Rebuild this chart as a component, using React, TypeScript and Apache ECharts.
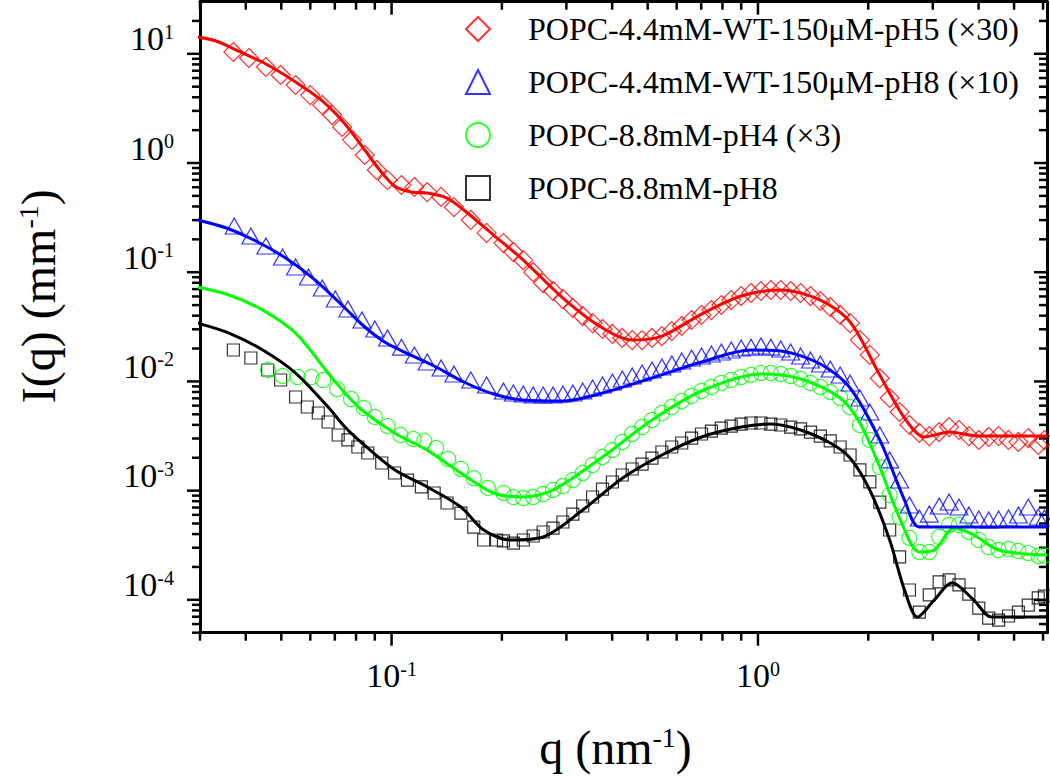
import React, { useEffect, useRef } from 'react';
import * as echarts from 'echarts';

const FONT = "'Liberation Serif', 'Times New Roman', serif";
const X_MIN = 0.03;
const X_MAX = 6.15;
const Y_MIN = 5e-5;
const Y_MAX = 30;

const NAME_RED = 'POPC-4.4mM-WT-150μM-pH5 (×30)';
const NAME_BLUE = 'POPC-4.4mM-WT-150μM-pH8 (×10)';
const NAME_GREEN = 'POPC-8.8mM-pH4 (×3)';
const NAME_BLACK = 'POPC-8.8mM-pH8';

// tick positions
const xMajorTicks = [0.1, 1];
const yMajorTicks = [1e-4, 1e-3, 1e-2, 1e-1, 1, 10];
const minorMultipliers = [2, 3, 4, 5, 6, 7, 8, 9];
const xDecades = [0.01, 0.1, 1];
const yDecades = [1e-5, 1e-4, 1e-3, 1e-2, 1e-1, 1, 10];

// low-q markers
const redLowQ = [0.0370, 0.0408, 0.0454, 0.0498, 0.0547, 0.0600, 0.0647, 0.0689, 0.0733, 0.0780, 0.0845, 0.0911, 0.0975, 0.1064, 0.1154, 0.1251, 0.1365, 0.1480, 0.1645, 0.1817];
const redLowI = [10.39, 9.15, 7.57, 6.40, 5.18, 4.19, 3.40, 2.75, 2.14, 1.63, 1.184, 0.863, 0.698, 0.629, 0.603, 0.542, 0.489, 0.395, 0.301, 0.229];

const blueLowQ = [0.0372, 0.0413, 0.0454, 0.0504, 0.0547, 0.0593, 0.0647, 0.0702, 0.0760, 0.0830, 0.0900, 0.0975, 0.1064, 0.1154, 0.1251, 0.1365, 0.1480, 0.1645, 0.1817];
const blueLowI = [0.265, 0.2146, 0.1738, 0.1378, 0.1116, 0.0904, 0.0716, 0.0568, 0.0460, 0.0365, 0.0302, 0.0250, 0.0206, 0.01745, 0.01505, 0.01327, 0.01169, 0.01030, 0.00927];

const greenLowQ = [0.0460, 0.0504, 0.0554, 0.0604, 0.0651, 0.0710, 0.0775, 0.0840, 0.0900, 0.0975, 0.1057, 0.1147, 0.1228, 0.1323, 0.1426, 0.1546, 0.1676, 0.1829];
const greenLowI = [0.01272, 0.01121, 0.01097, 0.01097, 0.0103, 0.00852, 0.00690, 0.00571, 0.00472, 0.00390, 0.00323, 0.00297, 0.00285, 0.00246, 0.00195, 0.00158, 0.00130, 0.00106];

const blackLowQ = [0.0370, 0.0413, 0.0459, 0.0498, 0.0547, 0.0589, 0.0631, 0.0671, 0.0715, 0.0760, 0.0809, 0.0861, 0.0940, 0.1019, 0.1105, 0.1206, 0.1307, 0.1417, 0.1546, 0.1676, 0.1784, 0.1934];
const blackLowI = [0.0194, 0.01638, 0.01272, 0.0103, 0.0072, 0.00583, 0.00514, 0.00425, 0.00323, 0.00291, 0.00251, 0.00221, 0.00179, 0.00145, 0.00125, 0.00108, 0.000951, 0.000770, 0.000623, 0.000464, 0.000353, 0.000353];

// dense (band) markers, shared q
const qBand = [0.2020, 0.2150, 0.2288, 0.2435, 0.2592, 0.2758, 0.2935, 0.3124, 0.3324, 0.3537, 0.3764, 0.4006, 0.4263, 0.4537, 0.4828, 0.5138, 0.5468, 0.5818, 0.6192, 0.6590, 0.7013, 0.7464, 0.7943, 0.8453, 0.8996, 0.9574, 1.019, 1.084, 1.154, 1.228, 1.307, 1.391, 1.480, 1.575, 1.676, 1.784, 1.898, 2.020, 2.150, 2.288, 2.435, 2.591, 2.757, 2.935, 3.123, 3.324, 3.537, 3.764, 4.006, 4.263, 4.537, 4.829, 5.138, 5.468, 5.821, 6.05];
const redBandI = [0.185, 0.153, 0.129, 0.100, 0.0796, 0.0673, 0.0568, 0.0470, 0.0397, 0.0342, 0.0302, 0.0272, 0.0250, 0.0239, 0.0239, 0.0250, 0.0260, 0.0289, 0.0322, 0.0365, 0.0406, 0.0450, 0.0501, 0.0556, 0.0605, 0.0645, 0.0673, 0.0687, 0.0687, 0.0673, 0.0645, 0.0605, 0.0545, 0.0480, 0.0406, 0.0342, 0.0239, 0.0175, 0.0107, 0.00705, 0.00525, 0.00399, 0.00337, 0.00316, 0.00344, 0.00382, 0.00359, 0.00316, 0.00291, 0.00310, 0.00316, 0.00291, 0.00279, 0.00303, 0.00262, 0.00290];
const blueBandI = [0.00817, 0.00783, 0.00767, 0.00751, 0.00751, 0.00751, 0.00767, 0.00783, 0.00817, 0.00870, 0.00927, 0.00988, 0.01052, 0.01121, 0.01194, 0.01272, 0.01355, 0.01443, 0.01537, 0.01638, 0.01708, 0.01781, 0.01858, 0.01938, 0.02022, 0.0206, 0.02110, 0.0206, 0.01980, 0.01858, 0.01708, 0.0157, 0.01443, 0.01299, 0.01144, 0.00967, 0.00705, 0.00525, 0.00323, 0.00191, 0.00125, 0.000738, 0.000561, 0.000610, 0.000723, 0.000786, 0.000708, 0.000598, 0.000549, 0.000538, 0.000549, 0.000561, 0.000598, 0.000708, 0.000573, 0.000560];
const greenBandI = [0.000951, 0.000874, 0.000855, 0.000874, 0.000931, 0.001013, 0.001102, 0.001251, 0.001449, 0.001715, 0.00203, 0.00235, 0.00279, 0.00330, 0.00382, 0.00443, 0.00514, 0.00583, 0.00662, 0.00735, 0.00817, 0.00889, 0.00967, 0.0103, 0.01097, 0.01144, 0.01194, 0.01194, 0.01169, 0.01121, 0.01052, 0.00967, 0.00889, 0.00800, 0.00705, 0.00583, 0.00399, 0.00291, 0.001645, 0.000912, 0.000573, 0.000368, 0.000274, 0.000274, 0.000376, 0.000484, 0.000484, 0.000418, 0.000353, 0.000305, 0.000286, 0.000292, 0.000280, 0.000268, 0.000252, 0.000255];
const blackBandI = [0.000346, 0.000331, 0.000353, 0.000384, 0.000418, 0.000454, 0.000516, 0.000610, 0.000723, 0.000874, 0.001034, 0.001199, 0.001390, 0.001577, 0.001752, 0.001988, 0.002257, 0.00251, 0.00273, 0.00303, 0.00330, 0.00351, 0.00374, 0.00390, 0.00407, 0.00416, 0.00416, 0.00407, 0.00399, 0.00382, 0.00367, 0.00344, 0.00316, 0.00285, 0.00251, 0.00212, 0.00155, 0.00120, 0.000786, 0.000436, 0.000247, 0.000123, 0.0000773, 0.000111, 0.000146, 0.000152, 0.000137, 0.000113, 0.0000841, 0.0000681, 0.0000653, 0.0000711, 0.0000773, 0.0000896, 0.000104, 0.000108];

// fit curves
const redFitQ = [0.0295, 0.0332, 0.0376, 0.0454, 0.0547, 0.0647, 0.0746, 0.0845, 0.0928, 0.1019, 0.1132, 0.1251, 0.1417, 0.1575, 0.1898, 0.2288, 0.2935, 0.3764, 0.4537, 0.5468, 0.7013, 0.8996, 1.154, 1.480, 1.784, 2.150, 2.512, 2.845, 3.324, 4.006, 4.829, 6.15];
const redFitI = [14.25, 13.10, 10.84, 8.07, 5.52, 3.70, 2.28, 1.315, 0.863, 0.616, 0.542, 0.531, 0.478, 0.371, 0.219, 0.1293, 0.0580, 0.0308, 0.0239, 0.0260, 0.0414, 0.0605, 0.0687, 0.0556, 0.0350, 0.01144, 0.00462, 0.00310, 0.00344, 0.00316, 0.00316, 0.00316];

const blueFitQ = [0.0295, 0.0354, 0.0426, 0.0514, 0.0619, 0.0746, 0.0845, 0.0957, 0.1084, 0.1307, 0.1575, 0.1898, 0.2288, 0.2935, 0.3764, 0.5138, 0.7013, 0.9574, 1.154, 1.480, 1.784, 2.150, 2.512, 2.757, 3.537, 4.537, 6.15];
const blueFitI = [0.301, 0.254, 0.1931, 0.1349, 0.0848, 0.0470, 0.0315, 0.0230, 0.01858, 0.01384, 0.00988, 0.00767, 0.00676, 0.00662, 0.00783, 0.01074, 0.01505, 0.01938, 0.01899, 0.01443, 0.00870, 0.00291, 0.000820, 0.000464, 0.000464, 0.000464, 0.000464];

const greenFitQ = [0.0295, 0.0360, 0.0445, 0.0547, 0.0671, 0.0746, 0.0830, 0.1019, 0.1251, 0.1546, 0.1898, 0.2288, 0.2758, 0.3764, 0.5138, 0.7013, 1.019, 1.307, 1.676, 1.898, 2.150, 2.435, 2.757, 3.028, 3.429, 3.883, 4.537, 6.15];
const greenFitI = [0.0732, 0.0618, 0.0450, 0.0277, 0.01194, 0.00783, 0.00547, 0.00337, 0.00235, 0.00145, 0.000951, 0.000874, 0.001013, 0.00203, 0.00443, 0.00817, 0.01169, 0.01052, 0.00705, 0.00416, 0.001645, 0.000561, 0.000274, 0.000286, 0.000454, 0.000392, 0.000286, 0.000257];

const blackFitQ = [0.0295, 0.0360, 0.0445, 0.0547, 0.0671, 0.0746, 0.0830, 0.1019, 0.1251, 0.1546, 0.1784, 0.2110, 0.2592, 0.3324, 0.4263, 0.5468, 0.7013, 0.8996, 1.084, 1.307, 1.575, 1.784, 2.020, 2.288, 2.512, 2.724, 3.028, 3.386, 3.883, 4.345, 6.15];
const blackFitI = [0.0342, 0.0277, 0.0194, 0.01194, 0.00583, 0.00382, 0.00273, 0.00155, 0.00108, 0.000708, 0.000436, 0.000353, 0.000376, 0.000664, 0.00130, 0.00212, 0.00310, 0.00382, 0.00407, 0.00359, 0.00273, 0.00199, 0.00101, 0.000353, 0.000123, 0.0000695, 0.0000996, 0.000143, 0.0000996, 0.0000695, 0.0000695];

const zip = (a: number[], b: number[]) => a.map((v, i) => [v, b[i]]);

const isPow10 = (v: number) => {
  const l = Math.log10(v);
  return Math.abs(l - Math.round(l)) < 1e-6;
};
const powLabel = (v: number) => {
  if (!isPow10(v)) return '';
  const e = Math.round(Math.log10(v));
  return `{b|10}{s|${e}}`;
};

const tickRich = {
  b: { fontFamily: FONT, fontSize: 34, lineHeight: 34, color: '#000', padding: [8, 0, 0, 0], verticalAlign: 'bottom' },
  s: { fontFamily: FONT, fontSize: 20, lineHeight: 20, color: '#000', verticalAlign: 'top' },
};
const nameRich = {
  a: { fontFamily: FONT, fontSize: 48, lineHeight: 48, color: '#000', padding: [6, 0, 0, 0], verticalAlign: 'bottom' },
  s: { fontFamily: FONT, fontSize: 28, lineHeight: 28, color: '#000', verticalAlign: 'top' },
};

const axisLine = { show: true, onZero: false, lineStyle: { color: '#000', width: 3 } };

function scatter(name: string, symbol: string, size: any, color: string, data: number[][]) {
  return {
    name, type: 'scatter', symbol, symbolSize: size, data, silent: true,
    itemStyle: { color: 'rgba(0,0,0,0)', borderColor: color, borderWidth: 1.2 },
    z: 2,
  };
}
function fit(name: string, color: string, data: number[][]) {
  return {
    name, type: 'line', data, showSymbol: false, symbol: 'none', smooth: 0.3, silent: true,
    lineStyle: { color, width: 3 }, z: 3,
  };
}

export default function App() {
  const ref = useRef<HTMLDivElement>(null);
  useEffect(() => {
    const chart = echarts.init(ref.current!, null, { renderer: 'svg' });
    const option: any = {
      animation: false,
      backgroundColor: '#fff',
      grid: { left: 192, right: 2, top: 1.7, bottom: 147.3, containLabel: false },
      legend: {
        orient: 'vertical', left: 460, top: 8, itemWidth: 24, itemHeight: 24, itemGap: 21,
        selectedMode: false,
        textStyle: { fontFamily: FONT, fontSize: 32, color: '#000', padding: [0, 0, 0, 33] },
        data: [NAME_RED, NAME_BLUE, NAME_GREEN, NAME_BLACK],
      },
      xAxis: [
        {
          type: 'log', logBase: 10, min: X_MIN, max: X_MAX, position: 'bottom',
          axisLine, axisTick: { show: false }, splitLine: { show: false },
          axisLabel: { formatter: powLabel, margin: 26, rich: tickRich, showMinLabel: true, showMaxLabel: true },
          name: '{a|q (nm}{s|-1}{a|)}', nameLocation: 'middle', nameGap: 91,
          nameTextStyle: { rich: nameRich, padding: [0, 16, 0, 0] },
        },
        {
          type: 'log', logBase: 10, min: X_MIN, max: X_MAX, position: 'top',
          axisLine, axisTick: { show: false }, splitLine: { show: false }, axisLabel: { show: false },
        },
      ],
      yAxis: [
        {
          type: 'log', logBase: 10, min: Y_MIN, max: Y_MAX, position: 'left',
          axisLine, axisTick: { show: false }, splitLine: { show: false },
          axisLabel: { formatter: powLabel, margin: 26, rich: tickRich, verticalAlign: 'middle', padding: [0, 0, 30, 0] },
          name: '{a|I(q) (mm}{s|-1}{a|)}', nameLocation: 'middle', nameGap: 138,
          nameTextStyle: { rich: nameRich, padding: [0, 0, 0, 42] },
        },
        {
          type: 'log', logBase: 10, min: Y_MIN, max: Y_MAX, position: 'right',
          axisLine, axisTick: { show: false }, splitLine: { show: false }, axisLabel: { show: false },
        },
      ],
      series: [
        scatter(NAME_BLACK, 'rect', 12, '#000000', [...zip(blackLowQ, blackLowI), ...zip(qBand, blackBandI)]),
        fit('fit-black', '#000000', zip(blackFitQ, blackFitI)),
        scatter(NAME_GREEN, 'circle', 15, '#00ff00', [...zip(greenLowQ, greenLowI), ...zip(qBand, greenBandI)]),
        fit('fit-green', '#00ff00', zip(greenFitQ, greenFitI)),
        scatter(NAME_BLUE, 'triangle', [18, 16], '#0000ff', [...zip(blueLowQ, blueLowI), ...zip(qBand, blueBandI)]),
        fit('fit-blue', '#0000ff', zip(blueFitQ, blueFitI)),
        scatter(NAME_RED, 'diamond', 19, '#ff0000', [...zip(redLowQ, redLowI), ...zip(qBand, redBandI)]),
        fit('fit-red', '#ff0000', zip(redFitQ, redFitI)),
      ],
    };
    chart.setOption(option);

    const px = (v: number) => chart.convertToPixel({ xAxisIndex: 0 }, v) as unknown as number;
    const py = (v: number) => chart.convertToPixel({ yAxisIndex: 0 }, v) as unknown as number;
    const left = px(X_MIN), right = px(X_MAX), top = py(Y_MAX), bottom = py(Y_MIN);
    const style = { stroke: '#000', lineWidth: 2.5 };
    const g: any[] = [];
    const addX = (v: number, len: number) => {
      const x = px(v);
      g.push({ type: 'line', silent: true, shape: { x1: x, y1: bottom, x2: x, y2: bottom + len }, style });
      g.push({ type: 'line', silent: true, shape: { x1: x, y1: top, x2: x, y2: top + len }, style });
    };
    const addY = (v: number, len: number) => {
      const y = py(v);
      g.push({ type: 'line', silent: true, shape: { x1: left - len, y1: y, x2: left, y2: y }, style });
      g.push({ type: 'line', silent: true, shape: { x1: right - len, y1: y, x2: right, y2: y }, style });
    };
    xMajorTicks.forEach((v) => addX(v, 13));
    yMajorTicks.forEach((v) => addY(v, 13));
    xDecades.forEach((d) => minorMultipliers.forEach((m) => {
      const v = d * m;
      if (v > X_MIN * 0.999 && v < X_MAX) addX(v, 8);
    }));
    yDecades.forEach((d) => minorMultipliers.forEach((m) => {
      const v = d * m;
      if (v > Y_MIN * 0.999 && v < Y_MAX) addY(v, 8);
    }));
    chart.setOption({ graphic: g });
    return () => chart.dispose();
  }, []);
  return <div ref={ref} style={{ position: 'fixed', left: 0, top: 0, width: 1050, height: 780 }} />;
}
